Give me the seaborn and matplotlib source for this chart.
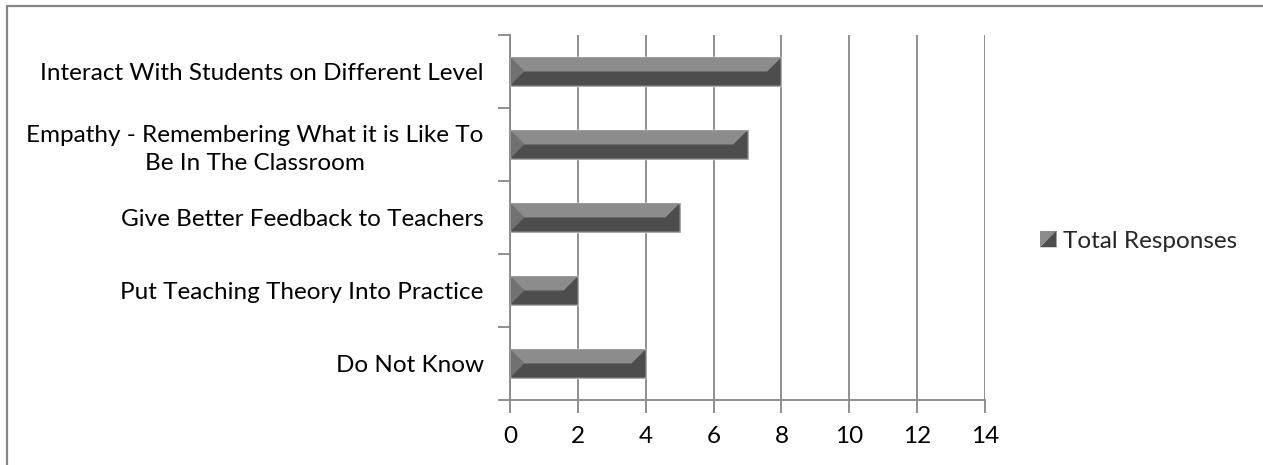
import matplotlib
matplotlib.use("Agg")
import matplotlib.pyplot as plt
from matplotlib.patches import Polygon, Rectangle
from matplotlib.legend_handler import HandlerBase
import seaborn as sns
import pandas as pd
import numpy as np

categories = [
    "Interact With Students on Different Level",
    "Empathy - Remembering What it is Like To\nBe In The Classroom",
    "Give Better Feedback to Teachers",
    "Put Teaching Theory Into Practice",
    "Do Not Know",
]
responses = [8, 7, 5, 2, 4]
series_name = "Total Responses"
x_ticks = [0, 2, 4, 6, 8, 10, 12, 14]

LIGHT = "#8c8c8c"
MID = "#717171"
DARK = "#4d4d4d"
GRID = "#878787"
FS = 17.5

sns.set_theme(style="white")
plt.rcParams["font.family"] = ["Lato", "DejaVu Sans"]

df = pd.DataFrame({"category": categories, "value": responses})

fig = plt.figure(figsize=(12.63, 4.65), dpi=100)
ax = fig.add_axes([510 / 1263, 1 - 400 / 465, 475 / 1263, 365 / 465])

sns.barplot(data=df, y="category", x="value", orient="h", color=DARK,
            width=0.39, saturation=1, ax=ax, zorder=3)

ax.set_xlim(0, 14)
ax.set_ylim(4.5, -0.5)
ax.set_xlabel("")
ax.set_ylabel("")

# vertical gridlines
ax.set_xticks(x_ticks)
ax.set_xticklabels([str(v) for v in x_ticks], fontsize=FS, color="black")
ax.grid(axis="x", color=GRID, linewidth=1.3, zorder=0)
ax.grid(axis="y", visible=False)

# category ticks at band boundaries, labels at band centres
n = len(categories)
ax.set_yticks(np.arange(-0.5, n, 1.0))
ax.set_yticklabels([""] * (n + 1))
ax.set_yticks(np.arange(n), minor=True)
ax.set_yticklabels(categories, minor=True, fontsize=FS, color="black",
                   ha="right", multialignment="center", linespacing=1.4)
ax.tick_params(axis="y", which="minor", length=0, pad=19)
ax.tick_params(axis="y", which="major", length=9, width=1.3, color=GRID,
               direction="out", left=True)
ax.tick_params(axis="x", length=9, width=1.3, color=GRID, direction="out",
               bottom=True, pad=10)

for side in ["top", "right"]:
    ax.spines[side].set_visible(False)
for side in ["left", "bottom"]:
    ax.spines[side].set_color(GRID)
    ax.spines[side].set_linewidth(1.3)
    ax.spines[side].set_zorder(4)

# bevelled faces on each bar
bev = 0.42
for patch in list(ax.patches):
    x0 = patch.get_x()
    w = patch.get_width()
    y0 = patch.get_y()
    h = patch.get_height()
    top, bot = y0, y0 + h
    mid = y0 + h / 2
    x1 = x0 + w
    b = min(bev, w / 2)
    ax.add_patch(Polygon([(x0, top), (x1, top), (x1 - b, mid), (x0 + b, mid)],
                         closed=True, facecolor=LIGHT, edgecolor="none", zorder=4))
    ax.add_patch(Polygon([(x0, top), (x0 + b, mid), (x0, bot)],
                         closed=True, facecolor=MID, edgecolor="none", zorder=4))
    ax.add_patch(Rectangle((x0, top), w, h, facecolor="none",
                           edgecolor="#9a9a9a", linewidth=0.6, zorder=5))


class BevelHandler(HandlerBase):
    def create_artists(self, legend, orig_handle, xdescent, ydescent,
                       width, height, fontsize, trans):
        s = min(width, height)
        x0 = xdescent + (width - s) / 2
        y0 = -ydescent + (height - s) / 2
        upper = Polygon([(x0, y0), (x0, y0 + s), (x0 + s, y0 + s)], closed=True,
                        facecolor=LIGHT, edgecolor="none", transform=trans)
        lower = Polygon([(x0, y0), (x0 + s, y0 + s), (x0 + s, y0)], closed=True,
                        facecolor=DARK, edgecolor="none", transform=trans)
        return [upper, lower]


handle = Rectangle((0, 0), 1, 1, facecolor=DARK)
fig.legend([handle], [series_name], handler_map={Rectangle: BevelHandler()},
           loc="center left", bbox_to_anchor=(1040 / 1263, 1 - 241 / 465),
           frameon=False, fontsize=FS, handlelength=0.68, handleheight=0.68,
           handletextpad=0.25, borderpad=0, borderaxespad=0)

# chart frame
fig.add_artist(plt.Line2D([6.5 / 1263, 1.0], [1 - 6.5 / 465] * 2,
                          transform=fig.transFigure, color=GRID, linewidth=1.6))
fig.add_artist(plt.Line2D([6.5 / 1263] * 2, [0.0, 1 - 6.5 / 465],
                          transform=fig.transFigure, color=GRID, linewidth=1.6))

fig.savefig("out.png", dpi=100, facecolor="white")
